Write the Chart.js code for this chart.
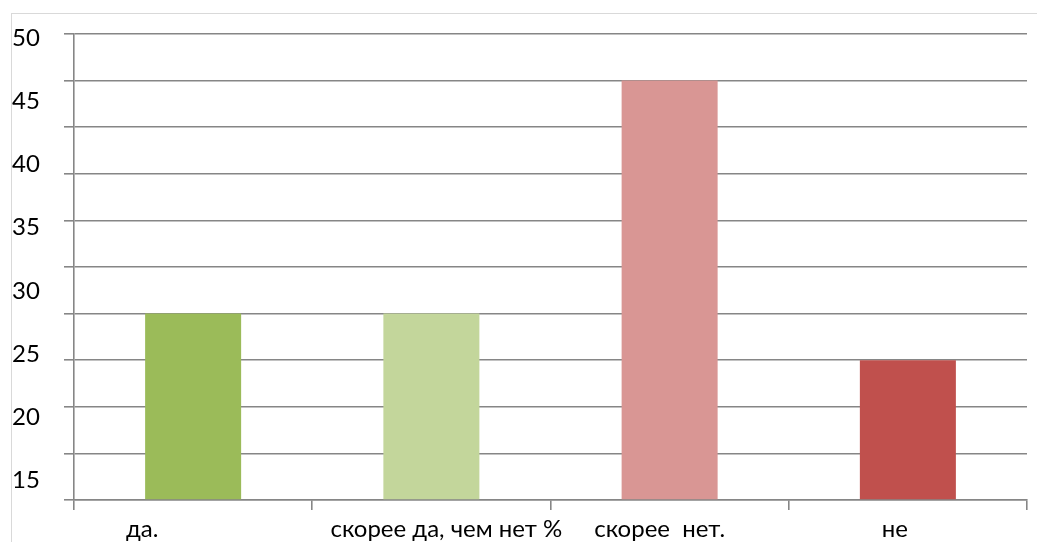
<!DOCTYPE html>
<html>
<head>
<meta charset="utf-8">
<script src="https://cdn.jsdelivr.net/npm/chart.js@4/dist/chart.umd.min.js"></script>
<style>
  html, body { margin: 0; padding: 0; background: #fff; overflow: hidden; }
  #wrap { position: relative; width: 1037px; height: 542px; }
  #frame { position: absolute; left: 11px; top: 13px; right: -4px; bottom: -4px;
           border-left: 1.5px solid #d9d9d9; border-top: 1.5px solid #d9d9d9; }
  canvas { position: absolute; left: 0; top: 0; }
</style>
</head>
<body>
<div id="wrap">
  <div id="frame"></div>
  <canvas id="chart" width="1037" height="542"></canvas>
</div>
<script>
// Survey answers and their share, %
const categories = ['да.', 'скорее да, чем нет %', 'скорее  нет.', 'не'];
const shares = [20, 20, 45, 15];
const barColors = ['#9BBB59', '#C3D69B', '#D99694', '#C0504D'];
// Labels printed along the left edge
const yTickLabels = [50, 45, 40, 35, 30, 25, 20, 15];

const LINE = '#868686';
const FONT = { family: 'Lato', size: 24 };

// Horizontal nudge of each category caption from its slot centre
const captionShift = [-51, 15, -10, -13];

const categoryCaptions = {
  id: 'categoryCaptions',
  afterDraw(chart) {
    const xs = chart.scales.x;
    const ctx = chart.ctx;
    ctx.save();
    ctx.font = FONT.size + 'px ' + FONT.family;
    ctx.fillStyle = '#000';
    ctx.textAlign = 'center';
    ctx.textBaseline = 'alphabetic';
    categories.forEach((text, i) => {
      ctx.fillText(text, xs.getPixelForValue(i) + captionShift[i], xs.bottom - 5);
    });
    ctx.restore();
  }
};

new Chart(document.getElementById('chart'), {
  type: 'bar',
  data: {
    labels: categories,
    datasets: [{
      data: shares,
      backgroundColor: barColors,
      borderWidth: 0,
      categoryPercentage: 1,
      barPercentage: 0.403,
      yAxisID: 'y'
    }]
  },
  options: {
    responsive: false,
    devicePixelRatio: 1,
    animation: false,
    layout: { padding: { left: 12, top: 34, right: 10, bottom: 0 } },
    plugins: { legend: { display: false }, tooltip: { enabled: false } },
    scales: {
      x: {
        offset: true,
        grid: { display: true, offset: true, drawOnChartArea: false, drawTicks: true,
                tickLength: 10, color: LINE, lineWidth: 1.6 },
        border: { display: true, color: LINE, width: 1.6 },
        ticks: { display: false },
        afterFit(scale) { scale.height = 42; }
      },
      y: {
        position: 'left',
        weight: 0,
        min: 0,
        max: 50,
        ticks: { display: false, stepSize: 5 },
        grid: { color: LINE, lineWidth: 1.6, tickLength: 10, drawTicks: true },
        border: { display: true, color: LINE, width: 1.6 },
        afterFit(scale) { scale.width = 10; }
      },
      yLabels: {
        position: 'left',
        weight: 1,
        min: 13.46,
        max: 50.32,
        grid: { display: false },
        border: { display: false },
        ticks: { padding: 0, crossAlign: 'far', color: '#000', font: FONT },
        afterBuildTicks(scale) { scale.ticks = yTickLabels.map(v => ({ value: v })); },
        afterFit(scale) { scale.width = 52; }
      }
    }
  },
  plugins: [categoryCaptions]
});
</script>
</body>
</html>
